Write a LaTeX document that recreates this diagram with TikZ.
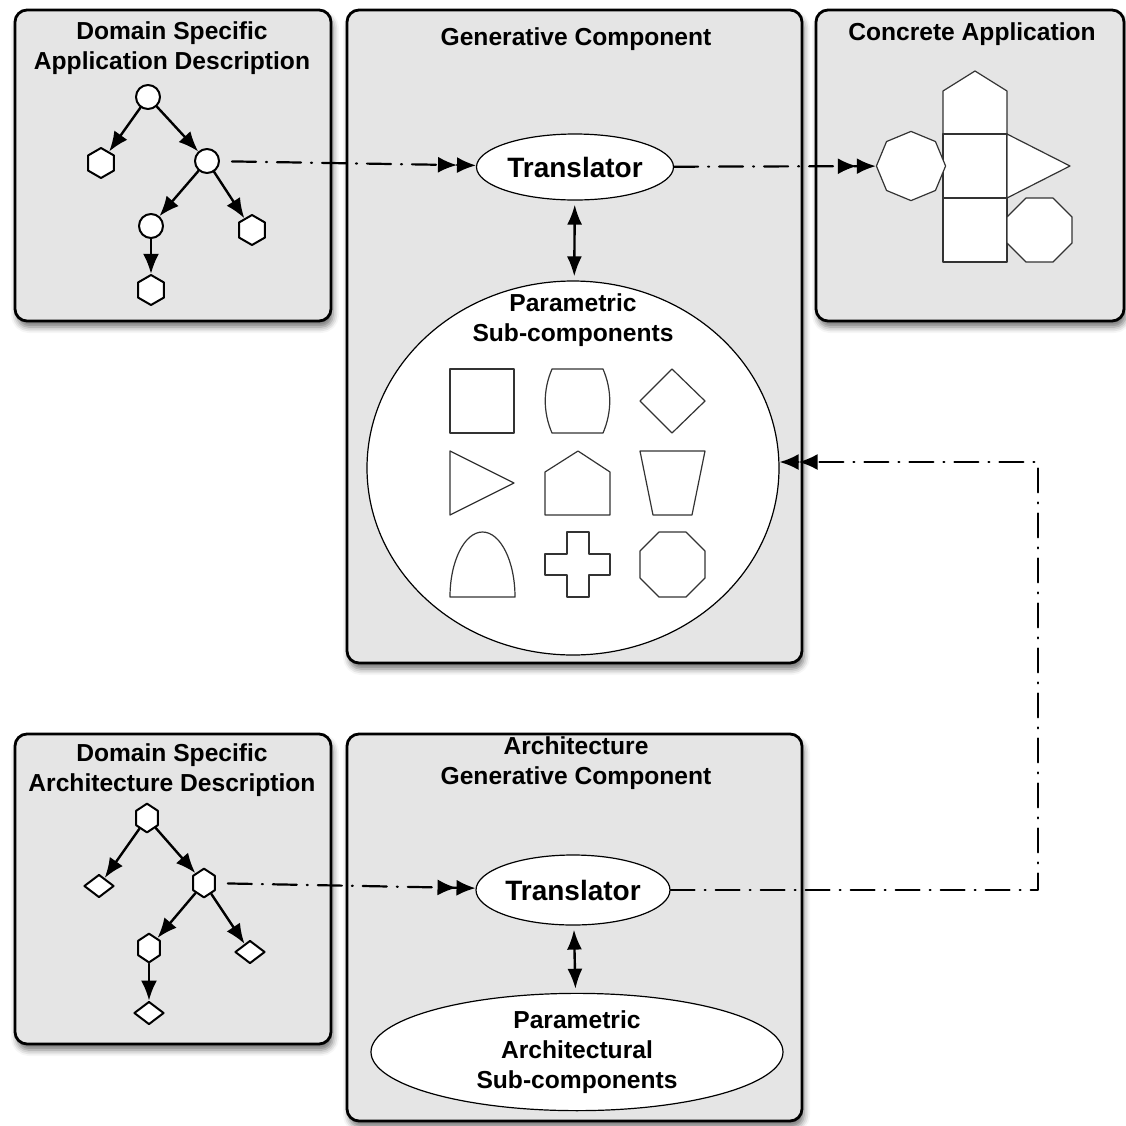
\documentclass[tikz,border=0pt]{standalone}
\usepackage{fontspec}
\setmainfont{Liberation Sans}
\usetikzlibrary{arrows.meta,shapes.geometric,shadows.blur}
\definecolor{boxgray}{HTML}{E5E5E5}
\definecolor{linegray}{HTML}{333333}

\begin{document}
\begin{tikzpicture}[x=0.5pt, y=-0.5pt, line join=round, line cap=round,
    font=\fontsize{12.3}{15}\selectfont\bfseries,
    panel/.style={fill=boxgray, draw=black, line width=1.4pt, rounded corners=6pt,
      blur shadow={shadow xshift=1pt, shadow yshift=-3pt, shadow blur radius=3pt, shadow opacity=55}},
    title/.style={align=center, inner sep=0pt},
    dot/.style={circle, draw, fill=white, line width=1pt, minimum size=12pt, inner sep=0pt},
    hexw/.style={regular polygon, regular polygon sides=6, shape border rotate=30, draw, fill=white, line width=1pt, minimum size=15pt, inner sep=0pt},
    hexb/.style={regular polygon, regular polygon sides=6, shape border rotate=30, draw, fill=white, line width=1pt, minimum size=12.5pt, inner sep=0pt, yscale=1.15, transform shape},
    diam/.style={diamond, draw, fill=white, line width=1pt, minimum width=15pt, minimum height=11.5pt, inner sep=0pt},
    oval/.style={ellipse, draw, fill=white, line width=0.6pt, inner sep=0pt, align=center},
    part/.style={draw=linegray, fill=white, line width=0.6pt},
    tarrow/.style={line width=1.2pt, -{Latex[length=10pt,width=8pt,fill=black]}},
    biarrow/.style={line width=1.2pt, {Latex[length=10pt,width=7.5pt,fill=black]}-{Latex[length=10pt,width=7.5pt,fill=black]}, shorten <=2pt, shorten >=2pt},
    flow/.style={line width=1.1pt, dash pattern=on 12pt off 5pt on 0.5pt off 5pt,
      -{Latex[length=9.5pt,width=8pt,fill=black]Latex[length=9.5pt,width=8pt,fill=black]}}]

  \useasboundingbox (0,0) rectangle (1126,1126);

  % Panels
  \draw[panel] (15,10) rectangle (331,321);
  \draw[panel] (347,10) rectangle (802,663);
  \draw[panel] (816,10) rectangle (1124,321);
  \draw[panel] (15,734) rectangle (331,1044);
  \draw[panel] (347,734) rectangle (802,1121);

  % Panel titles
  \node[title] (tA) at (172,48) {Domain Specific\\Application Description};
  \node[title] (tG) at (576,39) {Generative Component};
  \node[title] (tC) at (972,34) {Concrete Application};
  \node[title] (tB) at (172,770) {Domain Specific\\Architecture Description};
  \node[title] (tAG) at (576,763) {Architecture\\Generative Component};

  % Application description tree
  \node[dot] (r1) at (148,97) {};
  \node[hexw] (h1) at (101,163) {};
  \node[dot] (m1) at (207,161) {};
  \node[dot] (c1) at (151,226) {};
  \node[hexw] (h2) at (252,230) {};
  \node[hexw] (h3) at (151,290) {};
  \draw[tarrow] (r1) -- (h1);
  \draw[tarrow] (r1) -- (m1);
  \draw[tarrow] (m1) -- (c1);
  \draw[tarrow] (m1) -- (h2);
  \draw[tarrow] (c1) -- (h3);

  % Generative component
  \node[oval, minimum width=98.5pt, minimum height=33pt, font=\fontsize{14}{16}\selectfont\bfseries] (tr1) at (575,167) {Translator};
  \node[oval, minimum width=206pt, minimum height=187pt] (sub1) at (573,468) {};
  \node[title] (st1) at (573,320) {Parametric\\Sub-components};
  \draw[biarrow] (tr1) -- (sub1);

  % Sub-component shapes
  \draw[part] (450,369) rectangle (514,433);
  \draw[part] (552,369) -- (603,369) .. controls (612,390) and (612,412) .. (603,433)
    -- (552,433) .. controls (543,412) and (543,390) .. (552,369) -- cycle;
  \draw[part] (672,369) -- (705,401) -- (672,433) -- (640,401) -- cycle;
  \draw[part] (450,451) -- (514,483) -- (450,515) -- cycle;
  \draw[part] (545,515) -- (545,472) -- (578,451) -- (610,472) -- (610,515) -- cycle;
  \draw[part] (640,451) -- (705,451) -- (692,515) -- (653,515) -- cycle;
  \draw[part] (450,597) .. controls (450,561) and (464.6,532) .. (482.5,532)
    .. controls (500.4,532) and (515,561) .. (515,597) -- cycle;
  \draw[part] (567,532) -- (589,532) -- (589,554) -- (610,554) -- (610,575) -- (589,575)
    -- (589,597) -- (567,597) -- (567,575) -- (545,575) -- (545,554) -- (567,554) -- cycle;
  \draw[part] (659,532) -- (686,532) -- (705,551) -- (705,578) -- (686,597) -- (659,597)
    -- (640,578) -- (640,551) -- cycle;

  % Concrete application
  \draw[part] (943,134) -- (943,91) -- (975,71) -- (1007,91) -- (1007,134) -- cycle;
  \draw[part] (943,134) rectangle (1007,198);
  \draw[part] (943,198) rectangle (1007,262);
  \draw[part] (1007,134) -- (1070,166) -- (1007,198) -- cycle;
  \draw[part] (1026,198) -- (1053,198) -- (1072,217) -- (1072,243) -- (1053,262) -- (1026,262)
    -- (1007,243) -- (1007,217) -- cycle;
  \node[part, regular polygon, regular polygon sides=8, shape border rotate=22.5, minimum size=34.6pt, inner sep=0pt] (oct) at (911,166) {};

  % Flows of the application
  \draw[flow, shorten <=6pt] (m1) -- (tr1);
  \draw[flow] (tr1) -- (oct);

  % Architecture description tree
  \node[hexb] (r2) at (147,818) {};
  \node[diam] (d1) at (99,886) {};
  \node[hexb] (m2) at (204,883) {};
  \node[hexb] (c2) at (149,948) {};
  \node[diam] (d2) at (250,952) {};
  \node[diam] (d3) at (149,1013) {};
  \draw[tarrow] (r2) -- (d1);
  \draw[tarrow] (r2) -- (m2);
  \draw[tarrow] (m2) -- (c2);
  \draw[tarrow] (m2) -- (d2);
  \draw[tarrow] (c2) -- (d3);

  % Architecture generative component
  \node[oval, minimum width=97pt, minimum height=35pt, font=\fontsize{14}{16}\selectfont\bfseries] (tr2) at (573,890) {Translator};
  \node[oval, minimum width=206pt, minimum height=53.5pt] (sub2) at (577,1052) {Parametric\\Architectural\\Sub-components};
  \draw[biarrow] (tr2) -- (sub2);

  % Flows of the architecture
  \draw[flow, shorten <=6pt] (m2) -- (tr2);
  \coordinate (bend) at (1038,462);
  \draw[flow] (tr2.east) -| (bend) -- (bend -| sub1.east);
\end{tikzpicture}
\end{document}
